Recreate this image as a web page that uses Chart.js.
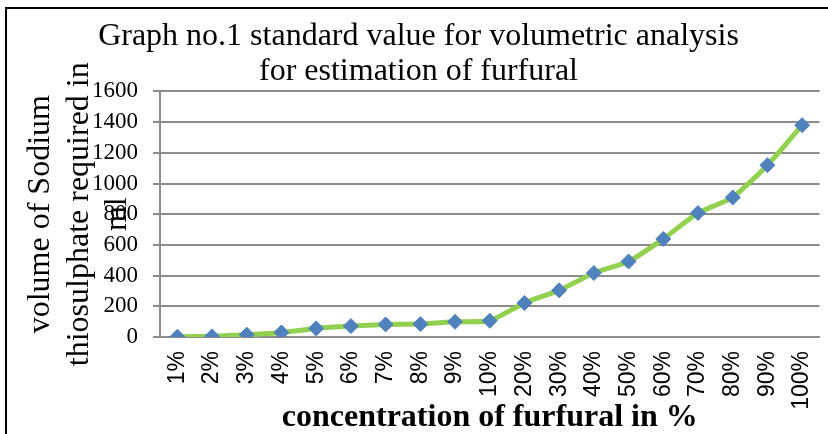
<!DOCTYPE html>
<html>
<head>
<meta charset="utf-8">
<script src="https://cdn.jsdelivr.net/npm/chart.js@4"></script>
<style>
	body { margin: 0; background: #fff; }
	#wrap { position: relative; width: 828px; height: 434px; }
	#frame { position: absolute; left: 5px; top: 7px; right: 0; bottom: 0; border-top: 2px solid #000; border-left: 2px solid #000; pointer-events: none; }
</style>
</head>
<body>
<div id="wrap">
	<canvas id="chartFurfural" width="828" height="434"></canvas>
	<div id="frame"></div>
</div>
<script>
// concentration of furfural (x categories)
const concentrations = ['1%','2%','3%','4%','5%','6%','7%','8%','9%','10%','20%','30%','40%','50%','60%','70%','80%','90%','100%'];
// volume of sodium thiosulphate in ml
const volumes = [2, 4, 15, 30, 56, 71, 82, 84, 99, 106, 222, 304, 417, 492, 639, 808, 909, 1119, 1380];
const yTicks = [0, 200, 400, 600, 800, 1000, 1200, 1400, 1600];

const chartTitle = ['Graph no.1 standard value for volumetric analysis', 'for estimation of furfural'];
const yTitle = ['volume of Sodium', 'thiosulphate required in', 'ml'];
const xTitle = 'concentration of furfural in %';

Chart.defaults.font.family = '"Liberation Serif", "Times New Roman", serif';
Chart.defaults.color = '#000';

new Chart(document.getElementById("chartFurfural"), {
	type: 'line',
	data: {
		labels: concentrations,
		datasets: [{
			data: volumes,
			borderColor: "#92D050",
			borderWidth: 5,
			tension: 0.15,
			pointStyle: 'rectRot',
			pointRadius: 7.5,
			pointBackgroundColor: "#4F81BD",
			pointBorderColor: "#4F81BD",
			pointBorderWidth: 1,
			fill: false
		}]
	},
	options: {
		responsive: false,
		animation: false,
		layout: { padding: { left: 12, right: 3, top: 10, bottom: 0 } },
		plugins: {
			legend: { display: false },
			tooltip: { enabled: false },
			title: {
				display: true,
				text: chartTitle,
				color: '#000',
				font: { size: 32, weight: 'normal', lineHeight: 1.1 },
				padding: { top: 9, bottom: 2 }
			}
		},
		scales: {
			x: {
				offset: true,
				grid: { display: false, drawTicks: false, tickLength: 0 },
				border: { display: true, color: '#8c8c8c', width: 2 },
				ticks: {
					minRotation: 90,
					maxRotation: 90,
					padding: 14,
					color: '#000',
					font: { family: '"Liberation Sans", Arial, sans-serif', size: 23 }
				},
				title: {
					display: true,
					text: xTitle,
					color: '#000',
					font: { size: 32, weight: 'bold', lineHeight: 1 },
					padding: { top: 0, bottom: 0 }
				},
				afterFit: function(scale) {
					scale.height = 97;
					scale.paddingLeft = 0;
					scale.paddingRight = 0;
				}
			},
			y: {
				min: 0,
				max: 1600,
				afterBuildTicks: function(scale) { scale.ticks = yTicks.map(v => ({ value: v })); },
				grid: { color: '#8c8c8c', lineWidth: 2, tickLength: 7, drawTicks: true },
				border: { display: true, color: '#8c8c8c', width: 2 },
				ticks: {
					padding: 15,
					color: '#000',
					font: { size: 23 },
					callback: function(value) { return String(value); }
				},
				title: {
					display: true,
					text: yTitle,
					color: '#000',
					font: { size: 32, lineHeight: 1.19 },
					padding: { top: 10, bottom: 0 }
				},
				afterFit: function(scale) { scale.width = 148; }
			}
		}
	}
});
</script>
</body>
</html>
